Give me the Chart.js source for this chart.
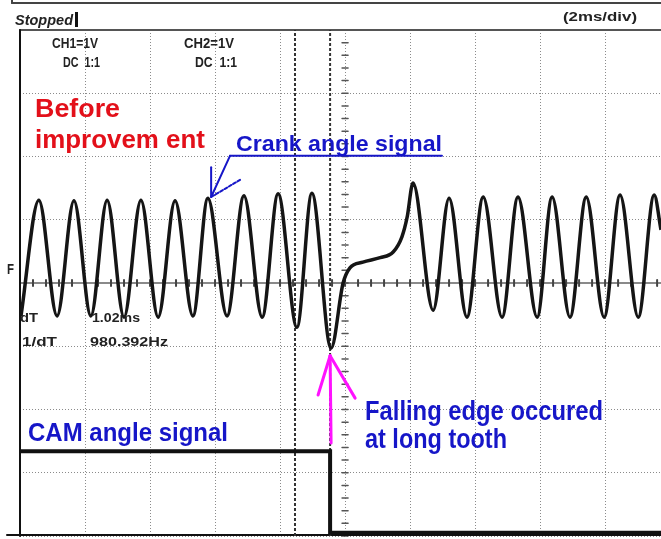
<!DOCTYPE html>
<html>
<head>
<meta charset="utf-8">
<style>
  html, body { margin: 0; padding: 0; background: #fff; }
  #wrap { width: 661px; height: 539px; position: relative; }
</style>
<script src="https://cdn.jsdelivr.net/npm/chart.js@4.4.0/dist/chart.umd.min.js"></script>
</head>
<body>
<div id="wrap"><canvas id="scope"></canvas></div>
<script>
// CH1 crank angle signal, peaks / troughs (ms, V)
const crankTime = [0.03, 0.58, 1.14, 1.66, 2.18, 2.68, 3.20, 3.72, 4.25, 4.77,
                   5.32, 5.78, 6.37, 6.89, 7.45, 7.94, 8.52, 8.98, 9.57, 9.94,
                   10.15, 10.55, 11.08, 11.48, 11.75, 11.91, 12.09, 12.71, 13.20, 13.75,
                   14.25, 14.83, 15.32, 15.91, 16.37, 16.92, 17.42, 17.97, 18.46, 19.02,
                   19.51, 19.72];
const crankVolt = [-0.52, 1.31, -0.52, 1.30, -0.52, 1.31, -0.54, 1.31, -0.54, 1.30,
                   -0.52, 1.34, -0.52, 1.38, -0.54, 1.41, -0.70, 1.42, -1.03, 0.00,
                   0.24, 0.33, 0.40, 0.49, 0.73, 1.04, 1.58, -0.43, 1.34, -0.54,
                   1.36, -0.54, 1.36, -0.54, 1.36, -0.54, 1.36, -0.54, 1.39, -0.54,
                   1.39, 0.84];

// CH2 cam angle signal
const camTime = [0, 9.54, 9.54, 19.72];
const camVolt = [-2.66, -2.66, -3.95, -3.95];

// cursor lines (ms)
const cursorTime = [8.46, 9.54];

// graticule: 2ms/div, 1V/div
const xTicks = [0, 2, 4, 6, 8, 10, 12, 14, 16, 18];
const yTicks = [-4, -3, -2, -1, 0, 1, 2, 3, 4];

function toPoints(xs, ys) {
  return xs.map(function(x, i) { return { x: x, y: ys[i] }; });
}

function fitText(ctx, text, x, y, width, font, color) {
  ctx.save();
  ctx.font = font;
  ctx.fillStyle = color;
  ctx.textBaseline = 'alphabetic';
  let w = ctx.measureText(text).width;
  ctx.translate(x, y);
  ctx.scale(width / w, 1);
  ctx.fillText(text, 0, 0);
  ctx.restore();
}

function seg(ctx, a, b, color, width, dash) {
  ctx.save();
  ctx.strokeStyle = color;
  ctx.lineWidth = width;
  ctx.lineCap = 'round';
  ctx.setLineDash(dash || []);
  ctx.beginPath();
  ctx.moveTo(a[0], a[1]);
  ctx.lineTo(b[0], b[1]);
  ctx.stroke();
  ctx.restore();
}

// center axes with small ticks + frame
const graticule = {
  id: 'graticule',
  beforeDatasetsDraw(chart) {
    let ctx = chart.ctx, a = chart.chartArea;
    let xs = chart.scales.x, ys = chart.scales.y;
    let cy = ys.getPixelForValue(0), cx = xs.getPixelForValue(10);
    seg(ctx, [a.left, cy], [a.right, cy], '#8a8a8a', 2);
    for (let t = 0; t <= 20; t += 0.4) {
      let px = xs.getPixelForValue(t);
      seg(ctx, [px, cy - 3], [px, cy + 3], '#444', 2);
    }
    for (let v = -4; v <= 4; v += 0.2) {
      let py = ys.getPixelForValue(v);
      seg(ctx, [cx - 3, py], [cx + 3, py], '#555', 1.5);
    }
    // frame
    seg(ctx, [a.left, a.top], [a.right, a.top], '#555', 2);
    seg(ctx, [a.left, a.top], [a.left, a.bottom], '#111', 2);
    seg(ctx, [7, a.bottom - 1], [a.right, a.bottom - 1], '#111', 2);
  }
};

// header, readouts and the hand drawn notes
const notes = {
  id: 'notes',
  afterDraw(chart) {
    let ctx = chart.ctx;
    let xs = chart.scales.x, ys = chart.scales.y;
    let P = function(t, v) { return [xs.getPixelForValue(t), ys.getPixelForValue(v)]; };
    const F = '"Liberation Sans", Arial, sans-serif';

    seg(ctx, [12, 3], [661, 3], '#444', 2);
    seg(ctx, [12, 0], [12, 3], '#444', 2);
    fitText(ctx, 'Stopped', 15, 25, 58, 'italic bold 14px ' + F, '#222');
    ctx.fillStyle = '#111';
    ctx.fillRect(75, 12, 3, 15);
    fitText(ctx, '(2ms/div)', 563, 21, 74, 'bold 13px ' + F, '#222');

    fitText(ctx, 'CH1=1V', 52, 48, 46, 'bold 14px ' + F, '#222');
    fitText(ctx, 'DC  1:1', 63, 67, 37, 'bold 14px ' + F, '#222');
    fitText(ctx, 'CH2=1V', 184, 48, 50, 'bold 14px ' + F, '#222');
    fitText(ctx, 'DC  1:1', 195, 67, 42, 'bold 14px ' + F, '#222');

    fitText(ctx, 'dT', 20, 322, 18, 'bold 13px ' + F, '#222');
    fitText(ctx, '1.02ms', 92, 322, 48, 'bold 13px ' + F, '#222');
    fitText(ctx, '1/dT', 22, 346, 35, 'bold 13px ' + F, '#222');
    fitText(ctx, '980.392Hz', 90, 346, 78, 'bold 13px ' + F, '#222');
    fitText(ctx, 'F', 7, 274, 7, 'bold 15px ' + F, '#222');

    const red = '#e3101a', blue = '#1616c8', pink = '#ff12ff';
    fitText(ctx, 'Before', 35, 117, 85, 'bold 26px ' + F, red);
    fitText(ctx, 'improvem ent', 35, 148, 170, 'bold 26px ' + F, red);
    fitText(ctx, 'Crank angle signal', 236, 151, 206, 'bold 22px ' + F, blue);
    fitText(ctx, 'CAM angle signal', 28, 441, 200, 'bold 26px ' + F, blue);
    fitText(ctx, 'Falling edge occured', 365, 420, 238, 'bold 27px ' + F, blue);
    fitText(ctx, 'at long tooth', 365, 448, 142, 'bold 27px ' + F, blue);

    // crank arrow -> peak
    let tip = P(5.88, 1.36);
    seg(ctx, P(6.46, 2.01), P(12.98, 2.01), blue, 2);
    seg(ctx, P(6.46, 2.01), tip, blue, 2);
    seg(ctx, P(5.88, 1.83), tip, blue, 2);
    seg(ctx, P(6.77, 1.63), tip, blue, 2, [3, 2]);

    // falling edge arrow
    let tip2 = P(9.54, -1.15);
    seg(ctx, P(9.57, -2.53), tip2, pink, 3);
    seg(ctx, P(9.17, -1.77), tip2, pink, 3);
    seg(ctx, P(10.31, -1.82), tip2, pink, 3);
  }
};

let datasets = [
  {
    label: 'Crank angle signal',
    data: toPoints(crankTime, crankVolt),
    borderColor: '#151515',
    borderWidth: 3.5,
    pointRadius: 0,
    cubicInterpolationMode: 'monotone'
  },
  {
    label: 'CAM angle signal',
    data: toPoints(camTime, camVolt),
    borderColor: '#111',
    borderWidth: 4,
    pointRadius: 0,
    tension: 0
  }
];
cursorTime.forEach(function(t) {
  datasets.push({
    label: 'cursor',
    data: toPoints([t, t], [-4, 4]),
    borderColor: '#333',
    borderWidth: 2,
    borderDash: [3, 2],
    pointRadius: 0,
    tension: 0
  });
});

let scopeChart = new Chart(document.getElementById('scope'), {
  type: 'line',
  data: { datasets: datasets },
  options: {
    responsive: true,
    maintainAspectRatio: false,
    animation: false,
    events: [],
    layout: { autoPadding: false, padding: { left: 20, top: 30, right: 0, bottom: 3 } },
    plugins: { legend: { display: false }, tooltip: { enabled: false } },
    scales: {
      x: {
        type: 'linear', min: 0, max: 19.72,
        afterBuildTicks: function(s) { s.ticks = xTicks.map(function(v) { return { value: v }; }); },
        afterFit: function(s) { s.height = 0; },
        ticks: { display: false },
        grid: { color: 'rgba(100,100,100,0.75)', lineWidth: 1, drawTicks: false },
        border: { display: false, dash: [1, 2] }
      },
      y: {
        type: 'linear', min: -4, max: 4,
        afterBuildTicks: function(s) { s.ticks = yTicks.map(function(v) { return { value: v }; }); },
        afterFit: function(s) { s.width = 0; },
        ticks: { display: false },
        grid: { color: 'rgba(100,100,100,0.75)', lineWidth: 1, drawTicks: false },
        border: { display: false, dash: [1, 2] }
      }
    }
  },
  plugins: [graticule, notes]
});
</script>
</body>
</html>
